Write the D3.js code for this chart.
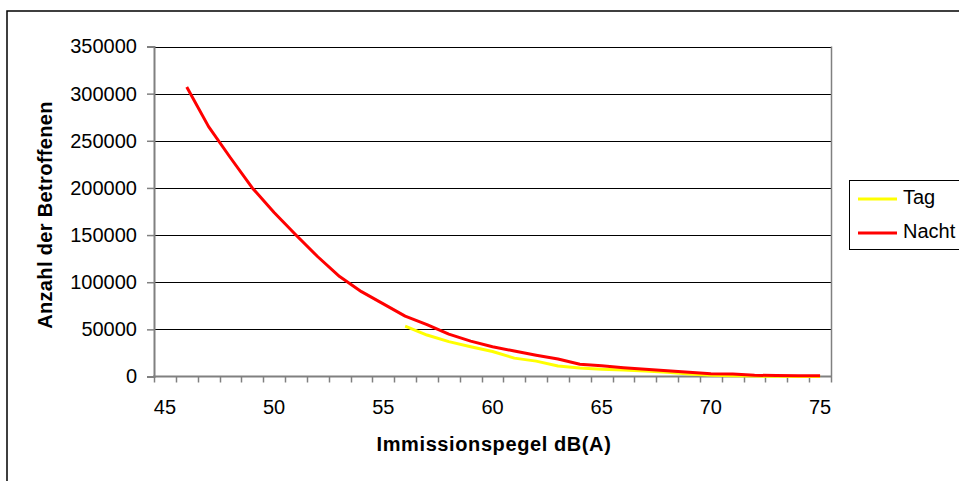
<!DOCTYPE html>
<html>
<head>
<meta charset="utf-8">
<script src="https://cdn.jsdelivr.net/npm/d3@7"></script>
<style>
  body { margin: 0; background: #fff; }
  svg { display: block; font-family: "Liberation Sans", Arial, sans-serif; }
</style>
</head>
<body>
<svg id="chart" width="959" height="481"></svg>
<script>
// Pegelklassen dB(A)
var categories = d3.range(45, 76)
var xTickLabels = [45, 50, 55, 60, 65, 70, 75]
var yTickValues = [0, 50000, 100000, 150000, 200000, 250000, 300000, 350000]

// Nacht: 46 .. 75
var nachtLevels = d3.range(46, 76)
var nachtValues = [307000, 265000, 232000, 200000, 174000, 150000, 127000, 106000, 90000, 77000,
                   64000, 55000, 45000, 37500, 31500, 27000, 22500, 18500, 13000, 11300,
                   9200, 7600, 6000, 4400, 2800, 2700, 1300, 1000, 900, 800]

// Tag: 56 .. 75
var tagLevels = d3.range(56, 76)
var tagValues = [53500, 44000, 37000, 31500, 26500, 19500, 16300, 11200, 8900, 7800,
                 7000, 5800, 4400, 2600, 1200, 800, 400, 200, 100, 100]

var series = [
    { name: "Tag", color: "#ffff00", levels: tagLevels, values: tagValues },
    { name: "Nacht", color: "#ff0000", levels: nachtLevels, values: nachtValues }
]

var svg = d3.select("#chart")

// outer chart frame (runs off the picture on the right and bottom)
svg.append("rect")
    .attr("x", 7).attr("y", 11)
    .attr("width", 1000).attr("height", 500)
    .attr("fill", "#fff")
    .attr("stroke", "#000")
    .attr("stroke-width", 1.5)

var plot = { left: 154, right: 831, top: 46.5, bottom: 376.5 }

var x = d3.scaleBand()
    .domain(categories)
    .range([plot.left, plot.right])

var y = d3.scaleLinear()
    .domain([0, 350000])
    .range([plot.bottom, plot.top])

function cx(c) { return x(c) + x.bandwidth() / 2 }

// gridlines
svg.append("g")
    .selectAll("line")
    .data(yTickValues.slice(1))
    .enter()
    .append("line")
    .attr("x1", plot.left).attr("x2", plot.right)
    .attr("y1", function(d) { return Math.round(y(d)) + 0.5 })
    .attr("y2", function(d) { return Math.round(y(d)) + 0.5 })
    .attr("stroke", "#000")
    .attr("stroke-width", 1)

// right border of plot area
svg.append("line")
    .attr("x1", plot.right + 0.5).attr("x2", plot.right + 0.5)
    .attr("y1", plot.top).attr("y2", plot.bottom)
    .attr("stroke", "#808080")
    .attr("stroke-width", 1.5)

// y axis
var yAxis = d3.axisLeft(y)
    .tickValues(yTickValues)
    .tickSize(7)
    .tickPadding(10)
    .tickFormat(d3.format("d"))

var gy = svg.append("g")
    .attr("transform", "translate(" + plot.left + ",0)")
    .call(yAxis)
gy.select(".domain").attr("stroke", "#808080").attr("stroke-width", 2)
gy.selectAll(".tick line").attr("stroke", "#808080").attr("stroke-width", 1.5)
gy.selectAll(".tick text")
    .attr("fill", "#000")
    .style("font-size", "20px")
    .style("font-family", "'Liberation Sans', Arial, sans-serif")

// x axis: ticks between categories, labels every 5 dB
var boundaries = categories.map(function(c) { return x(c) }).concat([plot.right])

var gx = svg.append("g")
gx.append("line")
    .attr("x1", plot.left - 1).attr("x2", plot.right + 1)
    .attr("y1", plot.bottom).attr("y2", plot.bottom)
    .attr("stroke", "#808080")
    .attr("stroke-width", 2)
gx.selectAll(".xtick")
    .data(boundaries)
    .enter()
    .append("line")
    .attr("class", "xtick")
    .attr("x1", function(d) { return Math.round(d) + 0.5 })
    .attr("x2", function(d) { return Math.round(d) + 0.5 })
    .attr("y1", plot.bottom)
    .attr("y2", plot.bottom + 6)
    .attr("stroke", "#808080")
    .attr("stroke-width", 1.5)
gx.selectAll(".xlabel")
    .data(xTickLabels)
    .enter()
    .append("text")
    .attr("class", "xlabel")
    .attr("x", function(d) { return cx(d) })
    .attr("y", 414)
    .attr("text-anchor", "middle")
    .style("font-size", "20px")
    .text(function(d) { return d })

// axis titles
svg.append("text")
    .attr("x", 494)
    .attr("y", 451)
    .attr("text-anchor", "middle")
    .style("font-size", "20px")
    .style("font-weight", "bold")
    .style("letter-spacing", "0.6px")
    .text("Immissionspegel dB(A)")

svg.append("text")
    .attr("transform", "translate(52,215) rotate(-90)")
    .attr("text-anchor", "middle")
    .style("font-size", "20px")
    .style("font-weight", "bold")
    .style("letter-spacing", "0.35px")
    .text("Anzahl der Betroffenen")

// lines
var line = d3.line()
    .x(function(d) { return cx(d[0]) })
    .y(function(d) { return y(d[1]) })

svg.append("g")
    .selectAll("path")
    .data(series)
    .enter()
    .append("path")
    .attr("d", function(s) { return line(d3.zip(s.levels, s.values)) })
    .attr("fill", "none")
    .attr("stroke", function(s) { return s.color })
    .attr("stroke-width", 3)
    .attr("stroke-linejoin", "round")

// legend
var legend = svg.append("g")
legend.append("rect")
    .attr("x", 849.5).attr("y", 180.5)
    .attr("width", 200).attr("height", 69)
    .attr("fill", "#fff")
    .attr("stroke", "#000")
    .attr("stroke-width", 1)

var items = legend.selectAll(".item")
    .data(series)
    .enter()
    .append("g")
    .attr("class", "item")
    .attr("transform", function(d, i) { return "translate(0," + (199 + i * 34) + ")" })
items.append("line")
    .attr("x1", 858).attr("x2", 897)
    .attr("stroke", function(d) { return d.color })
    .attr("stroke-width", 3)
items.append("text")
    .attr("x", 903)
    .attr("y", 5)
    .style("font-size", "20px")
    .text(function(d) { return d.name })
</script>
</body>
</html>
